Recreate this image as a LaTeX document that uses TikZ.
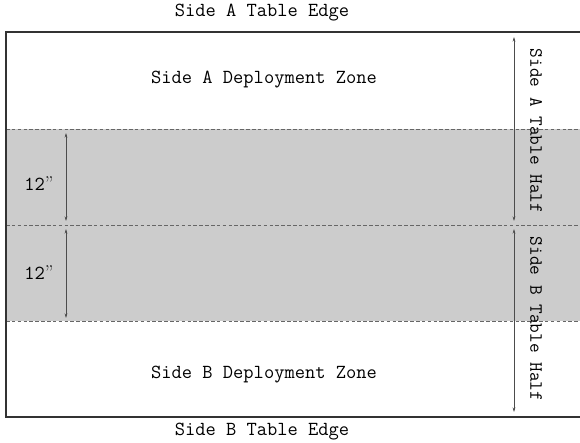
\documentclass[tikz,border=0pt]{standalone}
\usepackage{tikz}
\usetikzlibrary{arrows.meta}

\begin{document}
\begin{tikzpicture}[x=0.03cm,y=-0.03cm,
  lbl/.style={font=\ttfamily\fontsize{17}{20}\selectfont},
  sidelbl/.style={font=\ttfamily\fontsize{16}{19}\selectfont,rotate=-90},
  zoneline/.style={densely dashed,black!60,line width=0.5pt},
  dim/.style={{Stealth[length=4pt,width=2.4pt]}-{Stealth[length=4pt,width=2.4pt]},black!70,line width=0.5pt}]
  \useasboundingbox (0,0) rectangle (580,443);
  \clip (0,0) rectangle (580,443);

  % no man's land (two 12" bands)
  \fill[black!20] (6,129) rectangle (586,321);
  \draw[zoneline] (6,129) -- (586,129);
  \draw[zoneline] (6,225) -- (586,225);
  \draw[zoneline] (6,321) -- (586,321);

  % table outline
  \draw[line width=1.1pt,black!80] (6,32) rectangle (586,417);

  % edges and zones
  \node[lbl] (edgeA) at (262,13) {Side A Table Edge};
  \node[lbl] (edgeB) at (262,432) {Side B Table Edge};
  \node[lbl] (zoneA) at (264,80) {Side A Deployment Zone};
  \node[lbl] (zoneB) at (264,375) {Side B Deployment Zone};

  % 12" measures
  \coordinate (m1) at (66,133);
  \coordinate (m2) at (66,221);
  \coordinate (m3) at (66,229);
  \coordinate (m4) at (66,318);
  \draw[dim] (m1) -- (m2);
  \draw[dim] (m3) -- (m4);
  \node[lbl] (twelveA) at (39,184) {12{\rmfamily”}};
  \node[lbl] (twelveB) at (39,273) {12{\rmfamily”}};

  % table halves
  \coordinate (h1) at (514,37);
  \coordinate (h2) at (514,221);
  \coordinate (h3) at (514,229);
  \coordinate (h4) at (514,412);
  \draw[dim] (h1) -- (h2);
  \draw[dim] (h3) -- (h4);
  \node[sidelbl] (halfA) at (536,131) {Side A Table Half};
  \node[sidelbl] (halfB) at (536,319) {Side B Table Half};
\end{tikzpicture}
\end{document}
